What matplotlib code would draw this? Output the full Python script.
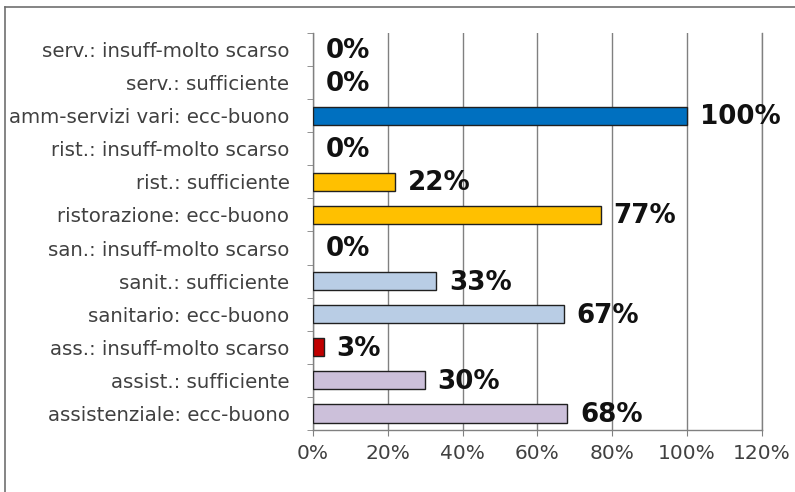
import matplotlib
matplotlib.use("Agg")
import matplotlib.pyplot as plt
from matplotlib.lines import Line2D

categories = [
    "assistenziale: ecc-buono",
    "assist.: sufficiente",
    "ass.: insuff-molto scarso",
    "sanitario: ecc-buono",
    "sanit.: sufficiente",
    "san.: insuff-molto scarso",
    "ristorazione: ecc-buono",
    "rist.: sufficiente",
    "rist.: insuff-molto scarso",
    "amm-servizi vari: ecc-buono",
    "serv.: sufficiente",
    "serv.: insuff-molto scarso",
]
values = [68, 30, 3, 67, 33, 0, 77, 22, 0, 100, 0, 0]
colors = ["#CCC0DA", "#CCC0DA", "#C00000",
          "#B9CDE5", "#B9CDE5", "#B9CDE5",
          "#FFC000", "#FFC000", "#FFC000",
          "#0070C0", "#0070C0", "#0070C0"]
xticks = [0, 20, 40, 60, 80, 100, 120]
xticklabels = ["0%", "20%", "40%", "60%", "80%", "100%", "120%"]

fig = plt.figure(figsize=(7.95, 4.92), dpi=100)
ax = fig.add_axes([0.3937, 0.126, 0.5648, 0.807])

y = list(range(len(categories)))
lws = [1.0 if v > 0 else 0 for v in values]
ax.barh(y, values, height=0.55, color=colors, edgecolor="#202020", linewidth=lws, zorder=3)
for yi, v in zip(y, values):
    ax.annotate(f"{v}%", xy=(v, yi), xytext=(9, -1), textcoords="offset points",
                va="center", ha="left", fontsize=18.8, fontweight="bold", color="#111111", zorder=4)

ax.set_xlim(0, 120)
ax.set_ylim(-0.5, len(categories) - 0.5)
ax.set_xticks(xticks)
ax.set_xticklabels(xticklabels, fontsize=14.5, color="#404040")
ax.set_yticks(y)
ax.set_yticklabels(categories, fontsize=14.2, color="#404040")
ax.tick_params(axis="y", length=0, pad=17)
ax.set_yticks([i - 0.5 for i in range(len(categories) + 1)], minor=True)
ax.tick_params(axis="y", which="minor", length=4, color="#808080")
ax.tick_params(axis="x", length=4, color="#808080", pad=6)
ax.grid(axis="x", color="#808080", linewidth=1.0, zorder=0)
ax.spines["top"].set_visible(False)
for s in ["left", "bottom", "right"]:
    ax.spines[s].set_color("#808080")
    ax.spines[s].set_linewidth(1.0)

# figure frame (left and top edges visible)
fig.add_artist(Line2D([5/795, 5/795], [0, 1 - 7/492], transform=fig.transFigure, color="#707070", linewidth=1.2))
fig.add_artist(Line2D([5/795, 1], [1 - 7/492, 1 - 7/492], transform=fig.transFigure, color="#707070", linewidth=1.2))

fig.savefig("out.png", dpi=100)
